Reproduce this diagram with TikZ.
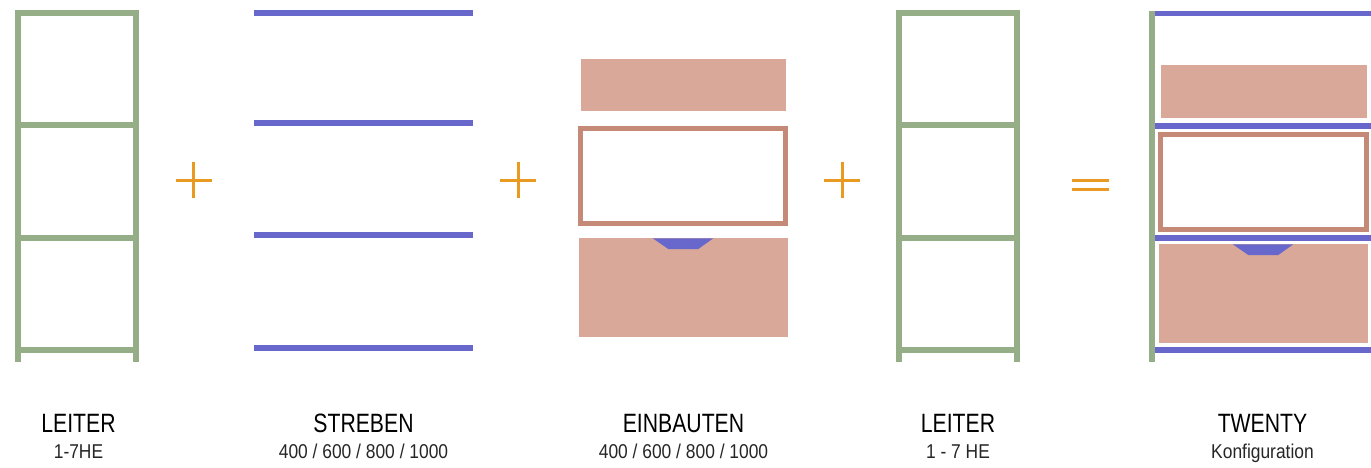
\documentclass[tikz,border=0pt]{standalone}
\usepackage{fontspec}
\setmainfont{Liberation Sans}[FakeStretch=0.80]
\newfontfamily\subfam{Liberation Sans}[FakeStretch=0.87]
\definecolor{lgreen}{RGB}{149,174,136}
\definecolor{lblue}{RGB}{104,104,204}
\definecolor{salmon}{RGB}{217,168,153}
\definecolor{frameb}{RGB}{196,138,119}
\definecolor{lorange}{RGB}{232,155,32}
\begin{document}
\begin{tikzpicture}[x=1pt,y=-1pt,
  green/.style={fill=lgreen,draw=none},
  blue/.style={fill=lblue,draw=none},
  panel/.style={fill=salmon,draw=none},
  frame/.style={draw=frameb,line width=5pt,fill=white},
  sign/.style={draw=lorange,line width=3pt},
  title/.style={anchor=base,font=\fontsize{26.5}{30}\selectfont,text=black,inner sep=0pt},
  sub/.style={anchor=base,font=\subfam\fontsize{20}{24}\selectfont,text=black!85,inner sep=0pt}]
\useasboundingbox (0,0) rectangle (1371,468);
% Leiter 1
\fill[green] (15,10) rectangle (21,362);
\fill[green] (133,10) rectangle (139,362);
\foreach \y in {10,122,235,347} \fill[green] (15,\y) rectangle (139,\y+6);
% plus 1
\draw[sign] (176,180.3) -- (212,180.3);
\draw[sign] (193.3,162) -- (193.3,198);
% Streben
\foreach \y in {10,120,232,345} \fill[blue] (254,\y) rectangle (473,\y+6);
% plus 2
\draw[sign] (500.3,180.3) -- (536.3,180.3);
\draw[sign] (518.3,162) -- (518.3,198);
% Einbauten
\fill[panel] (581,59.3) rectangle (786,111.3);
\draw[frame] (580.8,128.2) rectangle (785.2,223.2);
\fill[panel] (579.3,238.3) rectangle (787.7,337);
\fill[blue] (652.7,238.3) -- (713.3,238.3) -- (698.3,249) -- (668.3,249) -- cycle;
% plus 3
\draw[sign] (824,180.3) -- (860.3,180.3);
\draw[sign] (842.3,162) -- (842.3,198);
% Leiter 2
\fill[green] (896,10) rectangle (902,362);
\fill[green] (1014,10) rectangle (1020,362);
\foreach \y in {10,122,235,347} \fill[green] (896,\y) rectangle (1020,\y+6);
% equals
\draw[sign] (1072,180.2) -- (1108.7,180.2);
\draw[sign] (1072,189.5) -- (1108.7,189.5);
% Twenty
\fill[green] (1149,10.7) rectangle (1155.3,361.7);
\foreach \y in {10.7,123,235,347} \fill[blue] (1155.3,\y) rectangle (1371,\y+5.7);
\fill[panel] (1161,65.3) rectangle (1367,118);
\draw[frame] (1160.8,134.2) rectangle (1366.2,229.2);
\fill[panel] (1159.3,244.3) rectangle (1368.3,343.3);
\fill[blue] (1232.7,244.3) -- (1293.3,244.3) -- (1278.3,255) -- (1248.3,255) -- cycle;
% labels
\node[title] (t1) at (78.5,432.3) {LEITER};
\node[sub] (s1) at (78.5,458.5) {1-7HE};
\node[title] (t2) at (363.5,432.3) {STREBEN};
\node[sub] (s2) at (363.5,458.5) {400 / 600 / 800 / 1000};
\node[title] (t3) at (683.5,432.3) {EINBAUTEN};
\node[sub] (s3) at (683.5,458.5) {400 / 600 / 800 / 1000};
\node[title] (t4) at (958,432.3) {LEITER};
\node[sub] (s4) at (958,458.5) {1 - 7 HE};
\node[title] (t5) at (1262.5,432.3) {TWENTY};
\node[sub] (s5) at (1262.5,458.5) {Konfiguration};
\end{tikzpicture}
\end{document}
